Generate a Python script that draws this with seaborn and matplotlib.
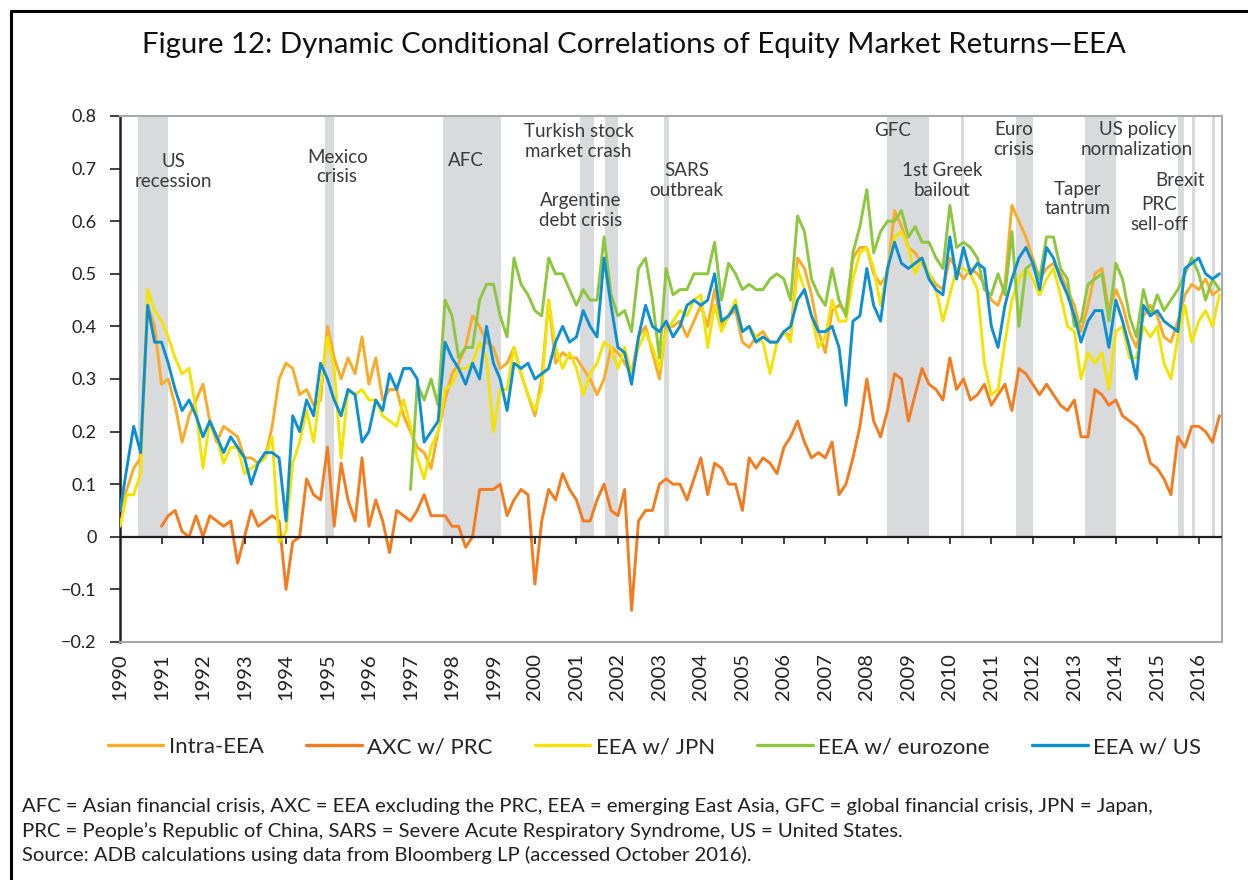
import numpy as np
import pandas as pd
import matplotlib
matplotlib.use("Agg")
import matplotlib.pyplot as plt
import seaborn as sns

# -------------------------------
# data (2-month steps from Jan 1990)
# -------------------------------
dates = pd.date_range("1990-01-01", periods=160, freq="2MS")

intra_eea = [
    .05, .09, .13, .15, .44, .40, .29, .30, .25, .18, .23, .26, .29, .22, .18, .21, .20, .19, .15, .15,
    .14, .15, .21, .30, .33, .32, .27, .28, .25, .26, .40, .34, .30, .34, .31, .38, .29, .34, .26, .28,
    .28, .23, .20, .17, .16, .13, .20, .26, .31, .33, .36, .42, .40, .37, .36, .32, .33, .36, .31, .27,
    .23, .30, .45, .33, .35, .34, .34, .32, .30, .27, .30, .36, .35, .33, .31, .38, .40, .35, .30, .40,
    .40, .41, .38, .41, .44, .40, .47, .40, .42, .43, .37, .36, .38, .39, .37, .37, .39, .38, .53, .51,
    .46, .39, .35, .43, .44, .43, .53, .55, .55, .50, .48, .50, .62, .59, .55, .54, .52, .50, .48, .47,
    .53, .51, .49, .51, .50, .48, .45, .44, .48, .63, .60, .57, .53, .49, .51, .52, .50, .47, .44, .39,
    .44, .50, .51, .43, .47, .44, .39, .36, .42, .44, .42, .38, .37, .41, .46, .48, .47, .49, .46, .47,
]

axc_prc = [
    None, None, None, None, None, None, .02, .04, .05, .01, .00, .04, .00, .04, .03, .02, .03, -.05, .00, .05,
    .02, .03, .04, .03, -.10, -.01, .00, .11, .08, .07, .17, .02, .14, .07, .03, .15, .02, .07, .03, -.03,
    .05, .04, .03, .05, .08, .04, .04, .04, .02, .02, -.02, .00, .09, .09, .09, .10, .04, .07, .09, .08,
    -.09, .03, .09, .07, .12, .09, .07, .03, .03, .07, .10, .05, .04, .09, -.14, .03, .05, .05, .10, .11,
    .10, .10, .07, .11, .15, .08, .14, .13, .10, .10, .05, .15, .13, .15, .14, .12, .17, .19, .22, .18,
    .15, .16, .15, .18, .08, .10, .15, .21, .30, .22, .19, .24, .31, .30, .22, .27, .32, .29, .28, .26,
    .34, .28, .30, .26, .27, .29, .25, .27, .29, .24, .32, .31, .29, .27, .29, .27, .25, .24, .26, .19,
    .19, .28, .27, .25, .26, .23, .22, .21, .19, .14, .13, .11, .08, .19, .17, .21, .21, .20, .18, .23,
]

eea_jpn = [
    .02, .08, .08, .12, .47, .43, .41, .38, .34, .31, .32, .24, .13, .22, .19, .14, .17, .17, .12, .13,
    .14, .15, .19, -.01, .01, .14, .18, .24, .18, .28, .38, .32, .15, .28, .27, .28, .26, .26, .23, .22,
    .21, .26, .21, .15, .11, .17, .20, .28, .29, .32, .32, .33, .37, .34, .20, .28, .28, .36, .31, .27,
    .24, .28, .45, .36, .32, .35, .32, .27, .31, .33, .37, .36, .32, .36, .31, .36, .39, .36, .32, .39,
    .41, .43, .42, .45, .46, .36, .44, .39, .42, .45, .39, .40, .38, .37, .31, .37, .39, .37, .51, .47,
    .42, .36, .38, .45, .41, .41, .49, .54, .55, .51, .44, .51, .57, .58, .55, .50, .53, .50, .47, .41,
    .46, .51, .51, .50, .47, .33, .27, .28, .37, .45, .49, .51, .49, .46, .49, .51, .46, .40, .39, .30,
    .35, .33, .35, .28, .39, .40, .34, .34, .40, .38, .40, .33, .30, .38, .44, .37, .41, .43, .40, .46,
]

eea_eurozone = [
    None, None, None, None, None, None, None, None, None, None, None, None, None, None, None, None, None, None, None, None,
    None, None, None, None, None, None, None, None, None, None, None, None, None, None, None, None, None, None, None, None,
    None, None, .09, .29, .26, .30, .25, .45, .42, .34, .36, .36, .45, .48, .48, .42, .38, .53, .48, .46,
    .43, .42, .53, .50, .50, .47, .44, .47, .45, .45, .57, .46, .42, .43, .39, .51, .53, .45, .34, .51,
    .46, .47, .47, .50, .50, .50, .56, .45, .52, .50, .47, .48, .47, .47, .49, .50, .49, .45, .61, .58,
    .49, .46, .44, .51, .45, .42, .54, .59, .66, .54, .58, .60, .60, .62, .57, .59, .56, .56, .53, .51,
    .63, .55, .56, .55, .53, .47, .46, .50, .46, .58, .40, .51, .52, .49, .57, .57, .51, .49, .40, .41,
    .48, .49, .50, .41, .52, .49, .42, .38, .47, .42, .46, .43, .45, .47, .50, .53, .50, .45, .49, .47,
]

eea_us = [
    .05, .13, .21, .16, .44, .37, .37, .33, .28, .24, .26, .23, .19, .22, .19, .16, .19, .17, .15, .10,
    .14, .16, .16, .15, .03, .23, .20, .26, .23, .33, .30, .26, .23, .28, .27, .18, .20, .26, .24, .31,
    .28, .32, .32, .30, .18, .20, .22, .37, .34, .32, .29, .33, .30, .40, .33, .30, .24, .33, .32, .33,
    .30, .31, .32, .37, .40, .37, .38, .43, .40, .38, .53, .44, .36, .35, .29, .38, .44, .40, .39, .41,
    .38, .40, .44, .45, .44, .45, .50, .41, .42, .44, .39, .40, .37, .38, .37, .37, .39, .40, .45, .47,
    .42, .39, .39, .40, .36, .25, .41, .42, .51, .44, .41, .51, .56, .52, .51, .52, .53, .49, .47, .46,
    .57, .49, .55, .50, .52, .51, .40, .36, .44, .49, .53, .55, .52, .47, .55, .53, .49, .46, .42, .37,
    .41, .43, .43, .36, .45, .41, .36, .30, .44, .42, .43, .41, .40, .39, .51, .52, .53, .50, .49, .50,
]

series_names = ["Intra-EEA", "AXC w/ PRC", "EEA w/ JPN", "EEA w/ eurozone", "EEA w/ US"]
series_colors = ["#F9AB2A", "#F47C20", "#F2E400", "#8DC63F", "#0E8FD0"]

# shaded event windows (decimal years)
event_start = [1990.43, 1994.94, 1997.78, 2001.08, 2001.69, 2003.11, 2008.48, 2010.27, 2011.59, 2013.25, 2015.49, 2015.83, 2016.31]
event_end = [1991.16, 1995.16, 1999.18, 2001.42, 2002.00, 2003.23, 2009.49, 2010.34, 2012.00, 2014.00, 2015.64, 2015.90, 2016.39]

event_labels = ["US\nrecession", "Mexico\ncrisis", "AFC", "Turkish stock\nmarket crash", "Argentine\ndebt crisis",
                "SARS\noutbreak", "GFC", "1st Greek\nbailout", "Euro\ncrisis", "US policy\nnormalization",
                "Taper\ntantrum", "Brexit", "PRC\nsell-off"]
label_pos = [(0.048, 0.894), (0.197, 0.903), (0.314, 0.916), (0.416, 0.952), (0.418, 0.821),
             (0.514, 0.878), (0.701, 0.973), (0.746, 0.878), (0.811, 0.956), (0.923, 0.956),
             (0.869, 0.842), (0.962, 0.878), (0.943, 0.812)]

y_ticks = [-0.2, -0.1, 0, 0.1, 0.2, 0.3, 0.4, 0.5, 0.6, 0.7, 0.8]
y_tick_labels = ["\u22120.2", "\u22120.1", "0", "0.1", "0.2", "0.3", "0.4", "0.5", "0.6", "0.7", "0.8"]
years = list(range(1990, 2017))

footnote = ("AFC = Asian financial crisis, AXC = EEA excluding the PRC, EEA = emerging East Asia, GFC = global financial crisis, JPN = Japan,\n"
            "PRC = People\u2019s Republic of China, SARS = Severe Acute Respiratory Syndrome, US = United States.\n"
            "Source: ADB calculations using data from Bloomberg LP (accessed October 2016).")


def to_date(y):
    return pd.Timestamp("1990-01-01") + pd.to_timedelta((y - 1990) * 365.25, unit="D")


# -------------------------------
# long table for seaborn
# -------------------------------
frames = []
for name, vals in zip(series_names, [intra_eea, axc_prc, eea_jpn, eea_eurozone, eea_us]):
    frames.append(pd.DataFrame({"date": dates, "value": pd.to_numeric(pd.Series(vals)), "series": name}))
df = pd.concat(frames, ignore_index=True).dropna()

sns.set_theme(style="white")
plt.rcParams["font.family"] = ["Lato", "DejaVu Sans"]

fig = plt.figure(figsize=(12.48, 8.8), dpi=100)
ax = fig.add_axes([0.0962, 0.2705, 0.8830, 0.5977])

for s, e in zip(event_start, event_end):
    ax.axvspan(to_date(s), to_date(e), ymin=0.2, ymax=1.0, color="#D9DADC", lw=0, zorder=0)

sns.lineplot(data=df, x="date", y="value", hue="series", hue_order=series_names,
             palette=dict(zip(series_names, series_colors)), estimator=None,
             linewidth=2.1, ax=ax, legend=True, zorder=3)

ax.axhline(0, color="#231F20", lw=1.6, zorder=4)
year_dates = [pd.Timestamp(f"{y}-01-01") for y in years]
ax.vlines(year_dates, -0.013, 0, color="#231F20", lw=1.2, zorder=4)

ax.set_xlim(pd.Timestamp("1990-01-01"), to_date(2016.56))
ax.set_ylim(-0.2, 0.8)
ax.set_xticks(year_dates)
ax.set_xticklabels([str(y) for y in years], rotation=90, fontsize=14.5, color="#231F20")
ax.tick_params(axis="x", length=0, pad=8)
ax.set_yticks(y_ticks)
ax.set_yticklabels(y_tick_labels, fontsize=13, color="#231F20")
ax.tick_params(axis="y", length=7, width=1.2, color="#231F20", left=True, pad=10)
ax.set_xlabel("")
ax.set_ylabel("")

for side in ["top", "right", "bottom"]:
    ax.spines[side].set_color("#A7A9AC")
    ax.spines[side].set_linewidth(1.5)
ax.spines["left"].set_color("#231F20")
ax.spines["left"].set_linewidth(1.8)

for txt, (px, py) in zip(event_labels, label_pos):
    ax.text(px, py, txt, transform=ax.transAxes, ha="center", va="center",
            fontsize=13.5, color="#3A3A3A", linespacing=1.2, zorder=5)

handles, labels = ax.get_legend_handles_labels()
ax.legend(handles, labels, loc="center", bbox_to_anchor=(0.485, -0.2), ncol=5, frameon=False,
          fontsize=16, handlelength=2.5, handletextpad=0.25, columnspacing=1.9)
for line in ax.get_legend().get_lines():
    line.set_linewidth(2.4)

fig.text(0.508, 0.949, "Figure 12: Dynamic Conditional Correlations of Equity Market Returns\u2014EEA",
         ha="center", va="center", fontsize=21.2, color="#111111")
fig.text(0.0176, 0.0555, footnote, ha="left", va="center", fontsize=14.6, color="#231F20", linespacing=1.42)

# frame round the exhibit (left and top edges)
fig.add_artist(plt.Line2D([0.009, 0.009], [0.0, 0.9875], color="black", lw=2.2))
fig.add_artist(plt.Line2D([0.009, 1.0], [0.9875, 0.9875], color="black", lw=2.2))

fig.savefig("out.png", dpi=100)
